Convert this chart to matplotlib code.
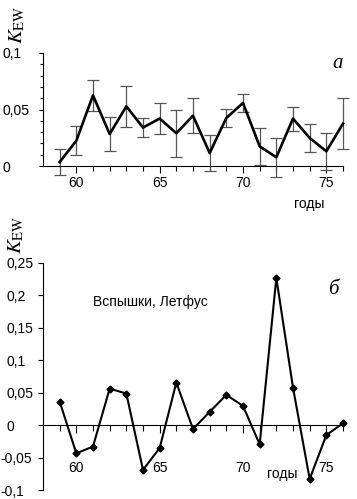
import matplotlib
matplotlib.use("Agg")
import matplotlib.pyplot as plt
import matplotlib.transforms as mtransforms
import numpy as np

plt.rcParams['font.family'] = ['Liberation Sans', 'DejaVu Sans']
plt.rcParams['mathtext.fontset'] = 'stix'

# ---- data ----
years = [59, 60, 61, 62, 63, 64, 65, 66, 67, 68, 69, 70, 71, 72, 73, 74, 75, 76]
k_top = [0.0035, 0.0224, 0.0625, 0.0283, 0.0528, 0.034, 0.042, 0.029, 0.0445,
         0.0115, 0.0425, 0.0558, 0.0174, 0.0077, 0.042, 0.0248, 0.013, 0.0375]
k_top_err = [0.0115, 0.0127, 0.0137, 0.0153, 0.018, 0.0086, 0.0136, 0.021, 0.0153,
             0.016, 0.0083, 0.008, 0.0165, 0.017, 0.0106, 0.0128, 0.0164, 0.0227]
k_bot = [0.0364, -0.0435, -0.033, 0.0563, 0.0487, -0.069, -0.0353, 0.0656, -0.006,
         0.0205, 0.0466, 0.0297, -0.0297, 0.227, 0.0579, -0.083, -0.0154, 0.003]

top_yticks = [0, 0.05, 0.1]
top_ylabels = ['0', '0,05', '0,1']
bot_yticks = [-0.1, -0.05, 0, 0.05, 0.1, 0.15, 0.2, 0.25]
bot_ylabels = ['-0,1', '-0,05', '0', '0,05', '0,1', '0,15', '0,2', '0,25']
xticks = [60, 65, 70, 75]
xlabels = ['60', '65', '70', '75']

W, H = 357, 499
fig = plt.figure(figsize=(W / 100, H / 100), dpi=100)

def frac(x0, y0, x1, y1):
    return [x0 / W, 1 - y1 / H, (x1 - x0) / W, (y1 - y0) / H]

ax1 = fig.add_axes(frac(43, 53, 343, 166))
ax2 = fig.add_axes(frac(43, 263, 343, 490))

# top panel
ax1.errorbar(years, k_top, yerr=k_top_err, fmt='none', ecolor='#555555',
             elinewidth=0.9, capsize=4, capthick=0.9, clip_on=False)
ax1.plot(years, k_top, color='black', lw=1.9, clip_on=False, zorder=3)
ax1.set_xlim(58, 76)
ax1.set_ylim(0, 0.1)
ax1.set_xticks(xticks)
ax1.set_xticklabels(xlabels)
ax1.set_xticks(years, minor=True)
ax1.set_yticks(top_yticks)
ax1.set_yticklabels(top_ylabels)
ax1.set_yticks(np.arange(0, 0.101, 0.01), minor=True)
ax1.tick_params(axis='x', which='major', length=5, width=0.8, pad=2.5, labelsize=10)
ax1.tick_params(axis='x', which='minor', length=3.5, width=0.8)
ax1.tick_params(axis='y', which='major', length=3, width=0.8, labelsize=10, pad=26.5)
ax1.tick_params(axis='y', which='minor', length=2, width=0.8)
for s in ['top', 'right']:
    ax1.spines[s].set_visible(False)
for s in ['left', 'bottom']:
    ax1.spines[s].set_linewidth(0.8)

# bottom panel
ax2.plot(years, k_bot, color='black', lw=1.5, marker='D', markersize=3.5,
         clip_on=False, zorder=3)
ax2.set_xlim(58, 76)
ax2.set_ylim(-0.1, 0.25)
ax2.spines['bottom'].set_position(('data', 0))
ax2.set_xticks(xticks)
ax2.set_xticklabels(xlabels)
ax2.set_xticks(years, minor=True)
ax2.set_yticks(bot_yticks)
ax2.set_yticklabels(bot_ylabels)
ax2.tick_params(axis='x', which='major', length=6, width=0.8, pad=20, labelsize=10)
ax2.tick_params(axis='x', which='minor', length=4, width=0.8)
ax2.tick_params(axis='y', which='major', length=3.5, width=0.8, labelsize=10, pad=22.5)
for s in ['top', 'right']:
    ax2.spines[s].set_visible(False)
for s in ['left', 'bottom']:
    ax2.spines[s].set_linewidth(0.8)

# left-aligned y tick labels, minus sign hanging
for ax in (ax1, ax2):
    for lab in ax.get_yticklabels():
        lab.set_horizontalalignment('left')
        if lab.get_text().startswith('-'):
            lab.set_transform(lab.get_transform() +
                              mtransforms.ScaledTranslation(-7 / 100, 0, fig.dpi_scale_trans))

# texts
fig.text(17 / W, 1 - 25 / H, r'$K_{\mathrm{EW}}$', rotation=90, fontsize=15,
         ha='center', va='center')
fig.text(16 / W, 1 - 235 / H, r'$K_{\mathrm{EW}}$', rotation=90, fontsize=15,
         ha='center', va='center')
fig.text(338 / W, 1 - 64 / H, 'a', fontsize=15, style='italic',
         family='Liberation Serif', ha='center', va='center')
fig.text(333 / W, 1 - 290 / H, 'б', fontsize=15, style='italic',
         family='Liberation Serif', ha='center', va='center')
fig.text(309 / W, 1 - 204 / H, 'годы', fontsize=10, ha='center', va='center')
fig.text(282 / W, 1 - 474 / H, 'годы', fontsize=10, ha='center', va='center')
fig.text(150 / W, 1 - 302 / H, 'Вспышки, Летфус', fontsize=10, ha='center', va='center')

fig.savefig('out.png', dpi=100)
